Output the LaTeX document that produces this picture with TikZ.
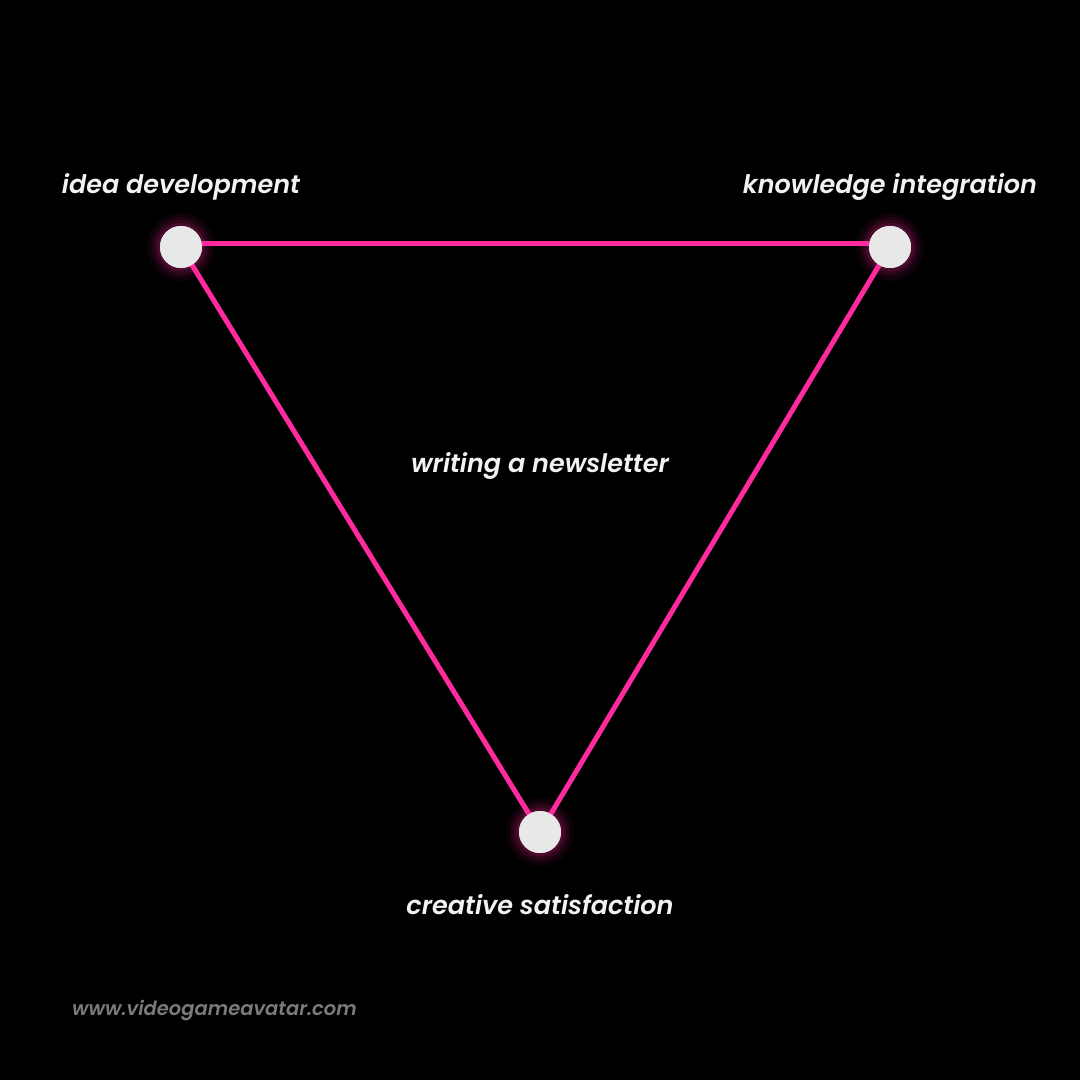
\documentclass[tikz,border=0pt]{standalone}
\usepackage{fontspec}
\setmainfont{Poppins}[UprightFont=* SemiBold, ItalicFont=* SemiBold Italic, BoldFont=* Bold, BoldItalicFont=* Bold Italic]
\definecolor{pinkline}{HTML}{FF2A9D}
\definecolor{nodefill}{HTML}{E8E8E8}
\definecolor{labeltext}{HTML}{F2F2F2}
\definecolor{urltext}{HTML}{7A7A7A}
\tikzset{
  dot/.style={circle, fill=nodefill, minimum width=42pt, minimum height=40pt, inner sep=0pt},
  link/.style={draw=pinkline, line width=5pt},
  lbl/.style={text=labeltext, font=\fontsize{25.5}{28}\selectfont\itshape, inner sep=0pt},
}
\begin{document}
\begin{tikzpicture}[x=1pt,y=-1pt]
\fill[black] (0,0) rectangle (1080,1080);
\useasboundingbox (0,0) rectangle (1080,1080);
% glows
\foreach \p in {(181,247),(890,247),(540,832)}{
  \foreach \r/\o in {34/0.05,30/0.07,27/0.09,24/0.12}{
    \fill[pinkline, opacity=\o] \p circle (\r);
  }
}
\coordinate (ta) at (181,243);
\coordinate (tb) at (890,243);
\node[dot] (a) at (181,247) {};
\node[dot] (b) at (890,247) {};
\node[dot] (c) at (540,832) {};
\draw[link] (ta) -- (tb);
\draw[link] (a.center) -- (c.center);
\draw[link] (b.center) -- (c.center);
\node[dot] at (a.center) {};
\node[dot] at (b.center) {};
\node[dot] at (c.center) {};
\node[lbl] (la) at (181,187) {idea development};
\node[lbl] (lb) at (890,187) {knowledge integration};
\node[lbl] (lc) at (540,905) {creative satisfaction};
\node[lbl] (lm) at (540,466) {writing a newsletter};
\node[text=urltext, font=\fontsize{19.5}{22}\selectfont\itshape, inner sep=0pt, anchor=west] (url) at (72,1011) {www.videogameavatar.com};
\end{tikzpicture}
\end{document}
